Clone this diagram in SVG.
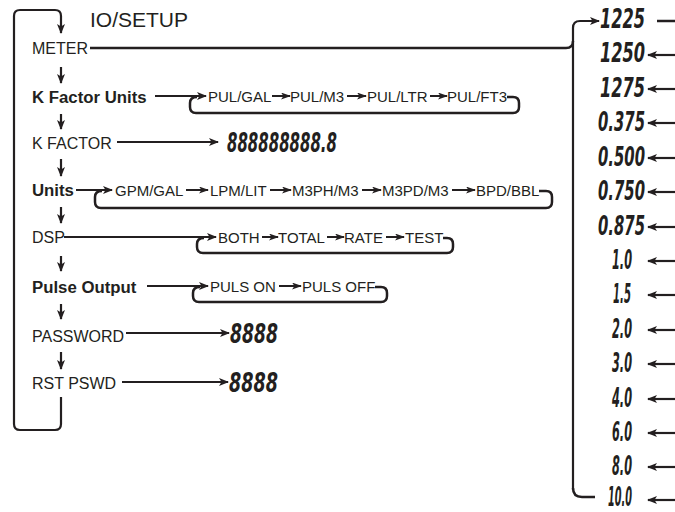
<svg xmlns="http://www.w3.org/2000/svg" width="675" height="512" viewBox="0 0 675 512">
<style>
.lbl{font-family:"Liberation Sans",Arial,sans-serif;font-size:16px;fill:#231f20}
.bold{font-weight:bold;font-size:16.8px}
.ch{font-family:"Liberation Sans",Arial,sans-serif;font-size:15px;fill:#231f20}
.seg{font-family:"DejaVu Sans Condensed","DejaVu Sans",sans-serif;font-weight:bold;font-style:italic;font-size:27px;fill:#231f20}
.title{font-family:"Liberation Sans",Arial,sans-serif;font-size:21px;fill:#231f20}
.ln{fill:none;stroke:#231f20;stroke-width:2.5}
.ar{fill:none;stroke:#231f20;stroke-width:2.2;marker-end:url(#ah)}
.sa{fill:none;stroke:#231f20;stroke-width:2;marker-end:url(#sh)}
</style>
<defs>
<marker id="ah" markerUnits="userSpaceOnUse" markerWidth="10" markerHeight="8" refX="9" refY="4" orient="auto"><path d="M0,0 L10,4 L0,8 L2.5,4 z" fill="#231f20"/></marker>
<marker id="sh" markerUnits="userSpaceOnUse" markerWidth="10" markerHeight="7" refX="9" refY="3.5" orient="auto"><path d="M0,0 L10,3.5 L0,7 L2.5,3.5 z" fill="#231f20"/></marker>
</defs>
<text class="title" x="90" y="27">IO/SETUP</text>
<g id="connectors">
<path class="ar" d="M61,397 V424 Q61,430 55,430 H20 Q14,430 14,424 V16 Q14,10 20,10 H55 Q61,10 61,16 V33"/>
<line class="ar" x1="61" y1="67" x2="61" y2="83"/>
<line class="ar" x1="61" y1="114" x2="61" y2="129"/>
<line class="ar" x1="61" y1="159" x2="61" y2="176"/>
<line class="ar" x1="61" y1="207" x2="61" y2="223"/>
<line class="ar" x1="61" y1="256" x2="61" y2="271"/>
<line class="ar" x1="61" y1="304" x2="61" y2="319"/>
<line class="ar" x1="61" y1="352" x2="61" y2="369"/>
<path class="ln" d="M90,48 H566 Q573,48 573,41"/>
<path class="ar" d="M573,490 V28 Q573,21 580,21 H599"/>
<path class="ln" d="M573,488 Q573,497 582,497 H595"/>
<line class="ar" x1="155" y1="96" x2="206" y2="96"/>
<path class="ln" d="M507,97 H513 Q519,97 519,103 V107 Q519,113 513,113 H196 Q190,113 190,107 V103 Q190,97 197,97"/>
<line class="sa" x1="272" y1="96" x2="290" y2="96"/>
<line class="sa" x1="347" y1="96" x2="366" y2="96"/>
<line class="sa" x1="430" y1="96" x2="447" y2="96"/>
<line class="ar" x1="117" y1="142" x2="218" y2="142"/>
<line class="ar" x1="76" y1="190" x2="112" y2="190"/>
<path class="ln" d="M539,191 H546 Q552,191 552,197 V202 Q552,208 546,208 H101 Q95,208 95,202 V197 Q95,191 102,191"/>
<line class="sa" x1="186" y1="190" x2="208" y2="190"/>
<line class="sa" x1="270" y1="190" x2="291" y2="190"/>
<line class="sa" x1="362" y1="190" x2="381" y2="190"/>
<line class="sa" x1="452" y1="190" x2="475" y2="190"/>
<line class="ar" x1="64" y1="237" x2="216" y2="237"/>
<path class="ln" d="M443,238 H447 Q453,238 453,244 V247 Q453,253 447,253 H203 Q197,253 197,247 V244 Q197,238 204,238"/>
<line class="sa" x1="262" y1="237" x2="278" y2="237"/>
<line class="sa" x1="327" y1="237" x2="344" y2="237"/>
<line class="sa" x1="386" y1="237" x2="404" y2="237"/>
<line class="ar" x1="147" y1="286" x2="208" y2="286"/>
<path class="ln" d="M375,287 H381 Q387,287 387,293 V296 Q387,302 381,302 H199 Q193,302 193,296 V293 Q193,287 200,287"/>
<line class="sa" x1="279" y1="286" x2="301" y2="286"/>
<line class="ar" x1="126" y1="333" x2="229" y2="333"/>
<line class="ar" x1="122" y1="382" x2="228" y2="382"/>
<line class="ln" x1="657" y1="21" x2="675" y2="21"/>
<line class="ar" x1="675" y1="55" x2="648" y2="55"/>
<line class="ar" x1="675" y1="89" x2="648" y2="89"/>
<line class="ar" x1="675" y1="123" x2="648" y2="123"/>
<line class="ar" x1="675" y1="158" x2="648" y2="158"/>
<line class="ar" x1="675" y1="192" x2="648" y2="192"/>
<line class="ar" x1="675" y1="227" x2="648" y2="227"/>
<line class="ar" x1="675" y1="261" x2="648" y2="261"/>
<line class="ar" x1="675" y1="295" x2="648" y2="295"/>
<line class="ar" x1="675" y1="330" x2="648" y2="330"/>
<line class="ar" x1="675" y1="364" x2="648" y2="364"/>
<line class="ar" x1="675" y1="399" x2="648" y2="399"/>
<line class="ar" x1="675" y1="433" x2="648" y2="433"/>
<line class="ar" x1="675" y1="467" x2="648" y2="467"/>
<line class="ar" x1="675" y1="500" x2="648" y2="500"/>
</g>
<g id="meter"><text class="lbl" x="32" y="54">METER</text></g>
<g id="kfactor-units"><text class="lbl bold" x="32" y="103">K Factor Units</text>
<text class="ch" x="208" y="101.5">PUL/GAL</text><text class="ch" x="290" y="101.5">PUL/M3</text><text class="ch" x="367" y="101.5">PUL/LTR</text><text class="ch" x="447" y="101.5">PUL/FT3</text></g>
<g id="kfactor"><text class="lbl" x="32" y="149">K FACTOR</text>
<text class="seg" x="227" y="152" textLength="110" lengthAdjust="spacingAndGlyphs">888888888.8</text></g>
<g id="units"><text class="lbl bold" x="32" y="196">Units</text>
<text class="ch" x="115" y="196">GPM/GAL</text><text class="ch" x="210" y="196">LPM/LIT</text><text class="ch" x="292" y="196">M3PH/M3</text><text class="ch" x="382" y="196">M3PD/M3</text><text class="ch" x="476" y="196">BPD/BBL</text></g>
<g id="dsp"><text class="lbl" x="32" y="243">DSP</text>
<text class="ch" x="218" y="242.5">BOTH</text><text class="ch" x="278" y="242.5">TOTAL</text><text class="ch" x="344" y="242.5">RATE</text><text class="ch" x="405" y="242.5">TEST</text></g>
<g id="pulse-output"><text class="lbl bold" x="32" y="293">Pulse Output</text>
<text class="ch" x="210" y="291.5">PULS ON</text><text class="ch" x="302" y="291.5">PULS OFF</text></g>
<g id="password"><text class="lbl" x="32" y="342">PASSWORD</text>
<text class="seg" x="230" y="343" textLength="48" lengthAdjust="spacingAndGlyphs">8888</text></g>
<g id="rst-pswd"><text class="lbl" x="32" y="389">RST PSWD</text>
<text class="seg" x="229" y="392" textLength="49" lengthAdjust="spacingAndGlyphs">8888</text></g>
<g id="meter-values">
<text class="seg" x="600" y="28" textLength="45" lengthAdjust="spacingAndGlyphs">1225</text>
<text class="seg" x="600" y="62.4" textLength="45" lengthAdjust="spacingAndGlyphs">1250</text>
<text class="seg" x="600" y="96.8" textLength="45" lengthAdjust="spacingAndGlyphs">1275</text>
<text class="seg" x="598" y="131.3" textLength="47" lengthAdjust="spacingAndGlyphs">0.375</text>
<text class="seg" x="598" y="165.7" textLength="47" lengthAdjust="spacingAndGlyphs">0.500</text>
<text class="seg" x="598" y="200" textLength="47" lengthAdjust="spacingAndGlyphs">0.750</text>
<text class="seg" x="598" y="234.5" textLength="47" lengthAdjust="spacingAndGlyphs">0.875</text>
<text class="seg" x="612" y="268.9" textLength="20" lengthAdjust="spacingAndGlyphs">1.0</text>
<text class="seg" x="613" y="303.3" textLength="18" lengthAdjust="spacingAndGlyphs">1.5</text>
<text class="seg" x="612" y="337.7" textLength="20" lengthAdjust="spacingAndGlyphs">2.0</text>
<text class="seg" x="612" y="372" textLength="20" lengthAdjust="spacingAndGlyphs">3.0</text>
<text class="seg" x="612" y="406.5" textLength="20" lengthAdjust="spacingAndGlyphs">4.0</text>
<text class="seg" x="612" y="440.9" textLength="20" lengthAdjust="spacingAndGlyphs">6.0</text>
<text class="seg" x="612" y="475.3" textLength="20" lengthAdjust="spacingAndGlyphs">8.0</text>
<text class="seg" x="608" y="506" textLength="24" lengthAdjust="spacingAndGlyphs">10.0</text>
</g>
</svg>
